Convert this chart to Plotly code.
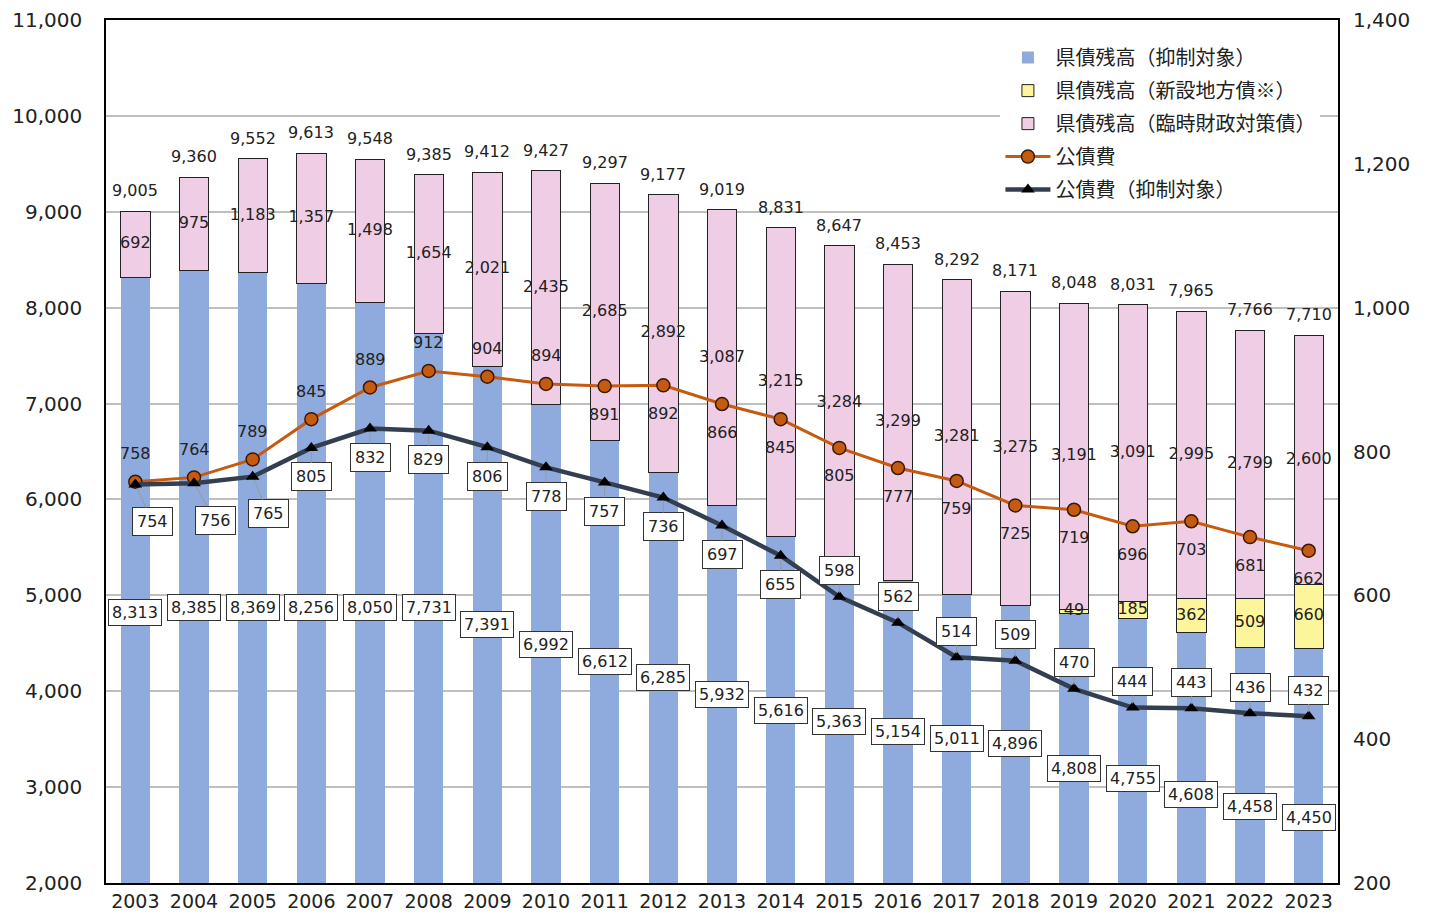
import plotly.graph_objects as go

years = [str(y) for y in range(2003, 2024)]
blue = [8313, 8385, 8369, 8256, 8050, 7731, 7391, 6992, 6612, 6285, 5932,
        5616, 5363, 5154, 5011, 4896, 4808, 4755, 4608, 4458, 4450]
yellow = [0] * 16 + [49, 185, 362, 509, 660]
pink = [692, 975, 1183, 1357, 1498, 1654, 2021, 2435, 2685, 2892, 3087,
        3215, 3284, 3299, 3281, 3275, 3191, 3091, 2995, 2799, 2600]
kosaihi = [758, 764, 789, 845, 889, 912, 904, 894, 891, 892, 866,
           845, 805, 777, 759, 725, 719, 696, 703, 681, 662]
kosaihi_yokusei = [754, 756, 765, 805, 832, 829, 806, 778, 757, 736, 697,
                   655, 598, 562, 514, 509, 470, 444, 443, 436, 432]

# where the boxed 抑制対象 balance labels sit (left-axis units)
blue_label_pos = [4816, 4868, 4878, 4868, 4868, 4868, 4701, 4492, 4315, 4138, 3971,
                  3804, 3689, 3575, 3512, 3450, 3199, 3095, 2918, 2793, 2678]

NUM_FONT = "'DejaVu Sans', 'Noto Sans CJK JP', sans-serif"
JP_FONT = "'Noto Sans CJK JP', 'DejaVu Sans', sans-serif"
BLUE = "#8FAADC"
YELLOW = "#FDF59B"
PINK = "#EFCDE4"
ORANGE = "#C55A11"
NAVY = "#333F50"
TXT = "#222222"
LBL = {"size": 16, "color": TXT, "family": NUM_FONT}

fig = go.Figure()
fig.add_trace(go.Bar(x=years, y=blue, name="県債残高（抑制対象）", width=0.5,
                     legendgroup="a", marker={"color": BLUE, "line": {"width": 0}}))
fig.add_trace(go.Bar(x=years, y=yellow, name="県債残高（新設地方債※）", width=0.5,
                     legendgroup="b",
                     marker={"color": YELLOW, "line": {"color": "#222", "width": 1}}))
fig.add_trace(go.Bar(x=years, y=pink, name="県債残高（臨時財政対策債）", width=0.5,
                     legendgroup="c",
                     marker={"color": PINK, "line": {"color": "#222", "width": 1}}))

totals = [b + y + p for b, y, p in zip(blue, yellow, pink)]

# pink / yellow segment labels at segment centres
pink_mid = [b + y + p / 2 for b, y, p in zip(blue, yellow, pink)]
fig.add_trace(go.Scatter(x=years, y=pink_mid, mode="text", showlegend=False,
                         text=[f"{v:,}" for v in pink], textfont=LBL, hoverinfo="skip"))
yx = [x for x, v in zip(years, yellow) if v]
ymid = [b + v / 2 for b, v in zip(blue, yellow) if v]
fig.add_trace(go.Scatter(x=yx, y=ymid, mode="text", showlegend=False,
                         text=[f"{v:,}" for v in yellow if v], textfont=LBL,
                         hoverinfo="skip"))

fig.add_trace(go.Scatter(x=years, y=kosaihi, name="公債費", yaxis="y2",
                         mode="lines+markers", legendgroup="d",
                         line={"color": ORANGE, "width": 3},
                         marker={"symbol": "circle", "size": 13, "color": ORANGE,
                                 "line": {"color": "#3a1a05", "width": 1.5}}))
fig.add_trace(go.Scatter(x=years, y=kosaihi_yokusei, name="公債費（抑制対象）", yaxis="y2",
                         mode="lines+markers", legendgroup="e",
                         line={"color": NAVY, "width": 4.5},
                         marker={"symbol": "triangle-up", "size": 12, "color": "#000"}))

# annotations use the category index so they stay on the category axis
ann = []
for i, t in enumerate(totals):
    ann.append(dict(x=i, y=t, text=f"{t:,}", showarrow=False, yanchor="bottom", yshift=9,
                    font=LBL))
for i, (v, p) in enumerate(zip(blue, blue_label_pos)):
    ann.append(dict(x=i, y=p, text=f"{v:,}", showarrow=False,
                    bgcolor="white", bordercolor="#333", borderwidth=1, borderpad=3,
                    font=LBL))
for i, v in enumerate(kosaihi):
    ann.append(dict(x=i, y=v, yref="y2", text=str(v), showarrow=False,
                    yshift=28 if i < 8 else -28, font=LBL))
for i, v in enumerate(kosaihi_yokusei):
    dx = [17, 21, 16][i] if i < 3 else 0
    dy = (37 if i < 3 else 29) if i < 12 else -26
    ann.append(dict(x=i, y=v, yref="y2", text=str(v), showarrow=True,
                    ax=dx, ay=dy, arrowhead=0, arrowwidth=1, arrowcolor="#9a9a9a",
                    standoff=4,
                    bgcolor="white", bordercolor="#333", borderwidth=1, borderpad=4,
                    font=LBL))

# page body has an 8px margin, so the figure is sized to fit inside the window
fig.update_layout(
    width=1424, height=906,
    barmode="stack", bargap=0.5,
    paper_bgcolor="white", plot_bgcolor="white",
    font={"family": NUM_FONT, "color": TXT, "size": 16},
    margin={"l": 98, "r": 94, "t": 12, "b": 31, "autoexpand": False},
    xaxis={"type": "category", "range": [-0.5, 20.5], "automargin": False,
           "showline": True, "linecolor": "#000", "linewidth": 1.5,
           "mirror": True, "tickfont": {"size": 19}, "ticks": "", "showgrid": False},
    yaxis={"range": [2000, 11000], "dtick": 1000, "tickformat": ",d", "automargin": False,
           "showgrid": True, "gridcolor": "#BFBFBF", "gridwidth": 1.5,
           "showline": True, "linecolor": "#000", "linewidth": 1.5, "mirror": True,
           "tickfont": {"size": 20}, "ticks": "", "zeroline": False,
           "ticklabelstandoff": 18},
    yaxis2={"range": [200, 1400], "dtick": 200, "overlaying": "y", "side": "right",
            "showgrid": False, "tickformat": ",d", "tickfont": {"size": 20},
            "automargin": False, "ticks": "", "zeroline": False,
            "ticklabelstandoff": 14},
    legend={"x": 0.726, "y": 0.979, "xanchor": "left", "yanchor": "top",
            "bgcolor": "white", "traceorder": "grouped",
            "font": {"size": 20, "family": JP_FONT}, "itemwidth": 45,
            "tracegroupgap": 4},
    annotations=ann,
    showlegend=True,
)

fig.write_html("out.html")
